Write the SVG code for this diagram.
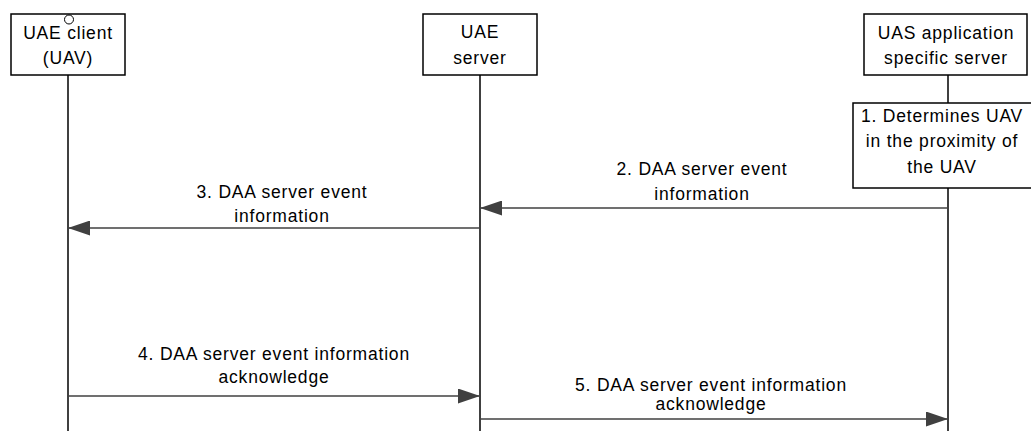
<svg xmlns="http://www.w3.org/2000/svg" width="1031" height="431" viewBox="0 0 1031 431">
<style>
.box{fill:#fff;stroke:#000;stroke-width:1.5}
.life{stroke:#000;stroke-width:1.5;fill:none}
.msg{stroke:#404040;stroke-width:1.5;fill:none}
text{font-family:"Liberation Sans",Arial,sans-serif;font-size:17.5px;letter-spacing:0.8px;fill:#000;text-anchor:middle}
</style>
<defs>
<marker id="ah" markerWidth="22" markerHeight="15" refX="22" refY="7.5" orient="auto" markerUnits="userSpaceOnUse">
<path d="M0,0 L22,7.5 L0,15 Z" fill="#404040"/>
</marker>
</defs>
<g id="lifelines">
<line class="life" x1="68" y1="75" x2="68" y2="431"/>
<line class="life" x1="480" y1="75" x2="480" y2="431"/>
<line class="life" x1="948" y1="75" x2="948" y2="103"/>
<line class="life" x1="948" y1="188" x2="948" y2="431"/>
</g>
<g id="uae-client">
<rect class="box" x="11" y="14" width="114" height="61"/>
<circle cx="69" cy="19.5" r="4.5" fill="#fff" stroke="#000" stroke-width="1"/>
<text x="68" y="39">UAE client</text>
<text x="68" y="64">(UAV)</text>
</g>
<g id="uae-server">
<rect class="box" x="423" y="14" width="114" height="61"/>
<text x="480" y="38">UAE</text>
<text x="480" y="64">server</text>
</g>
<g id="uas-server">
<rect class="box" x="864" y="14" width="163" height="61"/>
<text x="946" y="39">UAS application</text>
<text x="946" y="64">specific server</text>
</g>
<g id="step1">
<rect class="box" x="853" y="103" width="185" height="85"/>
<text x="942" y="122">1. Determines UAV</text>
<text x="942" y="147">in the proximity of</text>
<text x="942" y="173">the UAV</text>
</g>
<g id="connectors">
<line class="msg" x1="948" y1="208" x2="480" y2="208" marker-end="url(#ah)"/>
<text x="702" y="175">2. DAA server event</text>
<text x="702" y="200">information</text>
<line class="msg" x1="480" y1="228" x2="68" y2="228" marker-end="url(#ah)"/>
<text x="282" y="198">3. DAA server event</text>
<text x="282" y="222">information</text>
<line class="msg" x1="68" y1="396" x2="480" y2="396" marker-end="url(#ah)"/>
<text x="274" y="360">4. DAA server event information</text>
<text x="274" y="383">acknowledge</text>
<line class="msg" x1="480" y1="419" x2="948" y2="419" marker-end="url(#ah)"/>
<text x="711" y="391">5. DAA server event information</text>
<text x="711" y="410">acknowledge</text>
</g>
</svg>
